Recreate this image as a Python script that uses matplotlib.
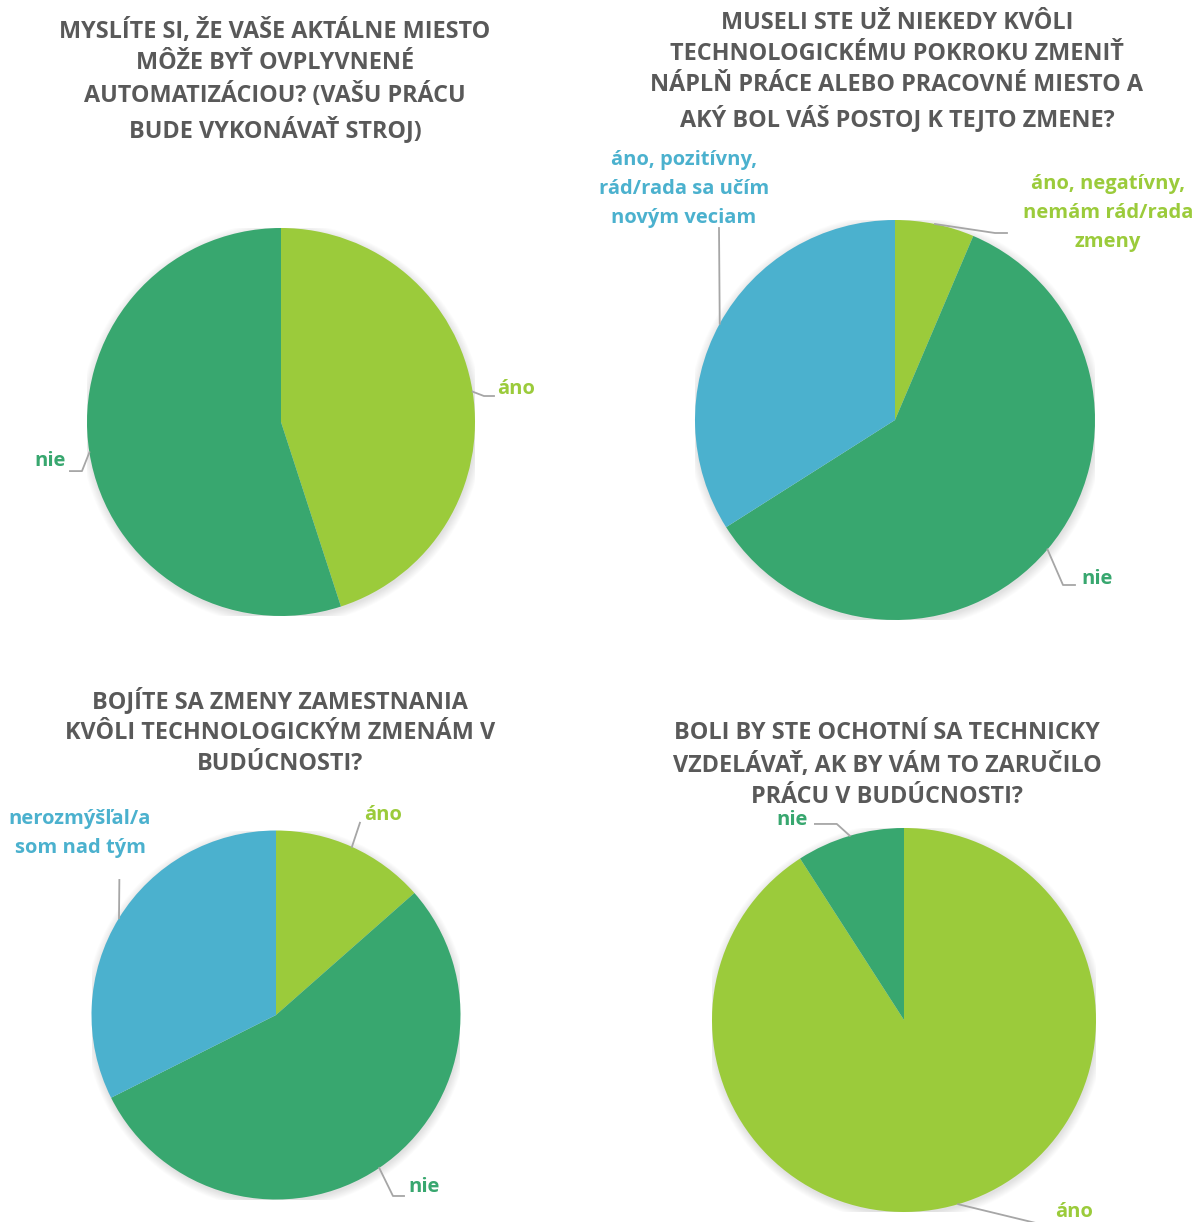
import numpy as np
import matplotlib
matplotlib.use("Agg")
import matplotlib.pyplot as plt
from matplotlib.patches import Circle

# --- dáta z dotazníka (podiely odpovedí v %) ---

Q1_TITLE = "MYSLÍTE SI, ŽE VAŠE AKTÁLNE MIESTO\nMÔŽE BYŤ OVPLYVNENÉ\nAUTOMATIZÁCIOU? (VAŠU PRÁCU\nBUDE VYKONÁVAŤ STROJ)"
Q1_LABELS = ["áno", "nie"]
Q1_VALUES = [45, 55]

Q2_TITLE = "MUSELI STE UŽ NIEKEDY KVÔLI\nTECHNOLOGICKÉMU POKROKU ZMENIŤ\nNÁPLŇ PRÁCE ALEBO PRACOVNÉ MIESTO A\nAKÝ BOL VÁŠ POSTOJ K TEJTO ZMENE?"
Q2_LABELS = ["áno, negatívny,\nnemám rád/rada\nzmeny", "nie", "áno, pozitívny,\nrád/rada sa učím\nnovým veciam"]
Q2_VALUES = [6.4, 59.6, 34.0]

Q3_TITLE = "BOJÍTE SA ZMENY ZAMESTNANIA\nKVÔLI TECHNOLOGICKÝM ZMENÁM V\nBUDÚCNOSTI?"
Q3_LABELS = ["áno", "nie", "nerozmýšľal/a\nsom nad tým"]
Q3_VALUES = [13.5, 54.1, 32.4]

Q4_TITLE = "BOLI BY STE OCHOTNÍ SA TECHNICKY\nVZDELÁVAŤ, AK BY VÁM TO ZARUČILO\nPRÁCU V BUDÚCNOSTI?"
Q4_LABELS = ["áno", "nie"]
Q4_VALUES = [90.9, 9.1]

LIGHT_GREEN = "#9BCB3B"
DARK_GREEN = "#38A76F"
BLUE = "#4BB1CE"
TITLE_COLOR = "#595959"
LINE_COLOR = "#A6A6A6"

W, H = 1204, 1222
FONT = ["Open Sans", "DejaVu Sans"]
TITLE_SIZE = 16.8
LABEL_SIZE = 14.5

fig = plt.figure(figsize=(W / 100, H / 100), dpi=100)
fig.patch.set_facecolor("white")


def pie_axes(cx, cy, r):
    # osi tak, aby jednotkový polomer koláča zodpovedal r pixelom
    ax = fig.add_axes([(cx - r) / W, 1 - (cy + r) / H, 2 * r / W, 2 * r / H])
    ax.axis("off")
    return ax


def draw_pie(ax, values, colors, labels, label_pos):
    # jemný tieň pod koláčom
    for k in range(10):
        ax.add_patch(Circle((0.004, -0.012), 1.0 + 0.0045 * k, color="black",
                            alpha=0.012, lw=0, zorder=0))
    wedges, _ = ax.pie(values, colors=colors, startangle=90, counterclock=False,
                       radius=1.0, wedgeprops=dict(linewidth=0))
    ax.set_xlim(-1, 1)
    ax.set_ylim(-1, 1)
    ax.set_aspect("equal")
    for w, text, (txy, ha, pts) in zip(wedges, labels, label_pos):
        mid = np.deg2rad((w.theta1 + w.theta2) / 2)
        xs = [np.cos(mid)] + [p[0] for p in pts]
        ys = [np.sin(mid)] + [p[1] for p in pts]
        ax.plot(xs, ys, color=LINE_COLOR, lw=1.3, clip_on=False, zorder=3)
        ax.text(txy[0], txy[1], text, ha=ha, va="center", multialignment="center",
                color=w.get_facecolor(), fontsize=LABEL_SIZE, fontweight="bold",
                family=FONT, linespacing=1.6, clip_on=False)


def title(x, y, text):
    fig.text(x / W, 1 - y / H, text, ha="center", va="center", multialignment="center",
             color=TITLE_COLOR, fontsize=TITLE_SIZE, fontweight="bold", family=FONT,
             linespacing=1.4)


# 1. automatizácia
ax1 = pie_axes(281, 422, 194)
draw_pie(ax1, Q1_VALUES, [LIGHT_GREEN, DARK_GREEN], Q1_LABELS, [
    ((1.115, 0.17), "left", [(1.046, 0.134), (1.098, 0.134)]),
    ((-1.108, -0.20), "right", [(-1.026, -0.253), (-1.088, -0.253)]),
])
title(275, 81, Q1_TITLE)

# 2. zmena práce
ax2 = pie_axes(895, 420, 200)
draw_pie(ax2, Q2_VALUES, [LIGHT_GREEN, DARK_GREEN, BLUE], Q2_LABELS, [
    ((1.065, 1.035), "center", [(0.50, 0.935), (0.56, 0.935)]),
    ((0.93, -0.795), "left", [(0.84, -0.825), (0.90, -0.825)]),
    ((-1.055, 1.155), "center", [(-0.88, 0.96)]),
])
title(897, 71.5, Q2_TITLE)

# 3. obavy zo zmeny
ax3 = pie_axes(276, 1015, 184.5)
draw_pie(ax3, Q3_VALUES, [LIGHT_GREEN, DARK_GREEN, BLUE], Q3_LABELS, [
    ((0.48, 1.084), "left", [(0.455, 1.042)]),
    ((0.716, -0.932), "left", [(0.634, -0.981), (0.694, -0.981)]),
    ((-1.062, 0.986), "center", [(-0.849, 0.732)]),
])
title(280, 731.5, Q3_TITLE)

# 4. vzdelávanie
ax4 = pie_axes(904, 1020, 192)
draw_pie(ax4, Q4_VALUES, [LIGHT_GREEN, DARK_GREEN], Q4_LABELS, [
    ((0.786, -1.0), "left", [(0.708, -1.0625)]),
    ((-0.50, 1.042), "right", [(-0.35, 1.021), (-0.464, 1.021)]),
])
title(887, 765, Q4_TITLE)

fig.savefig("out.png", dpi=100, facecolor="white")
